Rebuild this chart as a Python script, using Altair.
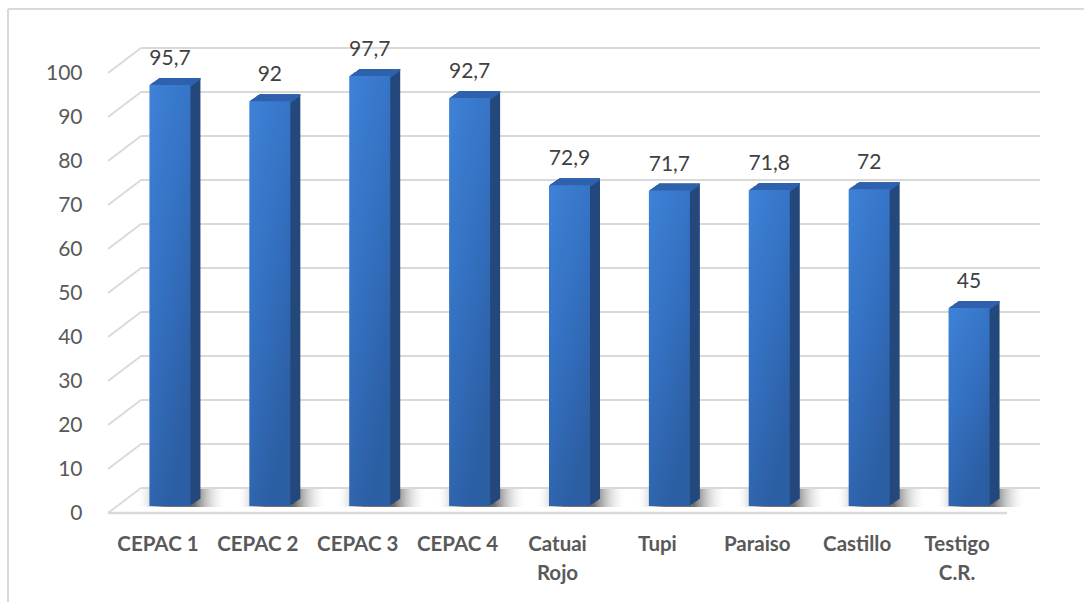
import altair as alt
import pandas as pd

# Germination (%) per variety
categories = ["CEPAC 1", "CEPAC 2", "CEPAC 3", "CEPAC 4", "Catuai Rojo",
              "Tupi", "Paraiso", "Castillo", "Testigo C.R."]
axis_labels = ["CEPAC 1", "CEPAC 2", "CEPAC 3", "CEPAC 4", "Catuai\nRojo",
               "Tupi", "Paraiso", "Castillo", "Testigo\nC.R."]
values = [95.7, 92, 97.7, 92.7, 72.9, 71.7, 71.8, 72, 45]
y_ticks = [0, 10, 20, 30, 40, 50, 60, 70, 80, 90, 100]

df = pd.DataFrame({
    "idx": list(range(len(categories))),
    "cat": categories,
    "lab": axis_labels,
    "value": values,
})
grid = pd.DataFrame({"v": y_ticks})

N = len(categories)
FONT = "Lato"
TXT = "#595959"
GRID = "#d9d9d9"
DEPTH_X, DEPTH_Y = 33, -25      # wall depth (pixels)
BAR_W = 41
BAR_DX, BAR_DY = 12, -7         # bar front plane inside the floor
STEPS = 10                      # extrusion steps for the bar sides

xs = alt.Scale(domain=[-0.5, N - 0.5], nice=False, zero=False)
ys = alt.Scale(domain=[0, 100], nice=False)
YAX = alt.Axis(values=y_ticks, labelFont=FONT, labelFontSize=21,
               labelColor=TXT, domain=False, ticks=False, grid=False,
               labelPadding=21, title=None)


def Y(field):
    return alt.Y(field, scale=ys, axis=YAX)


X = alt.X("idx:Q", scale=xs, axis=None)
base = alt.Chart(df).transform_calculate(
    lo=f"{-0.5}", hi=f"{N - 0.5}", zero="0"
)
gbase = alt.Chart(grid).transform_calculate(lo=f"{-0.5}", hi=f"{N - 0.5}")

# left wall: diagonal lines from the front edge to the back wall
left_wall = gbase.mark_rule(
    color=GRID, strokeWidth=1.8, x2Offset=DEPTH_X, y2Offset=DEPTH_Y
).encode(
    x=alt.X("lo:Q", scale=xs, axis=None),
    x2="lo:Q",
    y=Y("v:Q"),
    y2="v:Q",
)

# back wall gridlines
back_wall = gbase.mark_rule(
    color=GRID, strokeWidth=1.8, xOffset=DEPTH_X, x2Offset=DEPTH_X,
    yOffset=DEPTH_Y
).encode(
    x=alt.X("lo:Q", scale=xs, axis=None),
    x2="hi:Q",
    y=Y("v:Q"),
)

# front edge of the floor
floor_front = gbase.transform_filter("datum.v == 0").mark_rule(
    color=GRID, strokeWidth=2.4
).encode(
    x=alt.X("lo:Q", scale=xs, axis=None),
    x2="hi:Q",
    y=Y("v:Q"),
)

# soft shadow cast on the floor
shadow = base.mark_bar(
    width=90, xOffset=BAR_DX + 12, yOffset=BAR_DY + 1, y2Offset=DEPTH_Y + 1,
    fill=alt.Gradient(
        gradient="linear", x1=0, x2=1, y1=0, y2=0,
        stops=[
            alt.GradientStop(color="rgba(255,255,255,0)", offset=0),
            alt.GradientStop(color="rgba(95,95,95,0.85)", offset=0.3),
            alt.GradientStop(color="rgba(95,95,95,0.9)", offset=0.64),
            alt.GradientStop(color="rgba(255,255,255,0)", offset=1),
        ],
    ),
).encode(x=X, y=Y("zero:Q"), y2="zero:Q")

# side and top faces of the columns (stepped extrusion)
sides = []
tops = []
for k in range(1, STEPS + 1):
    ox = BAR_DX + k
    oy = BAR_DY + k * (-0.7)
    sides.append(base.mark_bar(width=BAR_W, color="#24487c",
                               xOffset=ox, yOffset=oy, y2Offset=oy).encode(
        x=X, y=Y("value:Q"), y2="zero:Q"))
    tops.append(base.mark_bar(width=BAR_W, color="#2e62ae",
                              xOffset=ox, yOffset=oy, y2Offset=oy + 2).encode(
        x=X, y=Y("value:Q"), y2="value:Q"))

# front faces of the columns
front = base.mark_bar(
    width=BAR_W, xOffset=BAR_DX, yOffset=BAR_DY, y2Offset=BAR_DY,
    fill=alt.Gradient(
        gradient="linear", x1=0, y1=0, x2=0.5, y2=1,
        stops=[alt.GradientStop(color="#3e82d8", offset=0),
               alt.GradientStop(color="#3471c2", offset=0.5),
               alt.GradientStop(color="#2c5ea3", offset=1)],
    ),
).encode(x=X, y=Y("value:Q"), y2="zero:Q")

# value labels with decimal comma
value_labels = base.transform_calculate(
    txt="replace(format(datum.value, '.1~f'), '.', ',')"
).mark_text(
    font=FONT, fontSize=21, color="#404040", baseline="alphabetic",
    dx=BAR_DX, dy=BAR_DY - 20,
).encode(x=X, y=Y("value:Q"), text="txt:N")

# category labels under the floor
cat_labels = base.mark_text(
    font=FONT, fontSize=20.5, fontWeight="bold", color=TXT,
    baseline="alphabetic", dy=38, lineBreak="\n", lineHeight=29,
).encode(x=X, y=Y("zero:Q"), text="lab:N")

# chart frame
frame_left = base.mark_rule(color=GRID, strokeWidth=1.2).encode(
    x=alt.value(-95), y=alt.value(-64), y2=alt.value(540))
frame_top = base.mark_rule(color=GRID, strokeWidth=1.2).encode(
    x=alt.value(-95), x2=alt.value(990), y=alt.value(-64))

chart = alt.layer(
    frame_left, frame_top, left_wall, back_wall, floor_front, shadow,
    *sides, *tops, front, value_labels, cat_labels,
).properties(
    width=909, height=440,
    autosize=alt.AutoSizeParams(type="none"),
    padding={"left": 103, "top": 73, "right": 72, "bottom": 89},
    background="white",
).configure_view(stroke=None)

chart.save("out.html", embed_options={"renderer": "svg", "actions": False})
